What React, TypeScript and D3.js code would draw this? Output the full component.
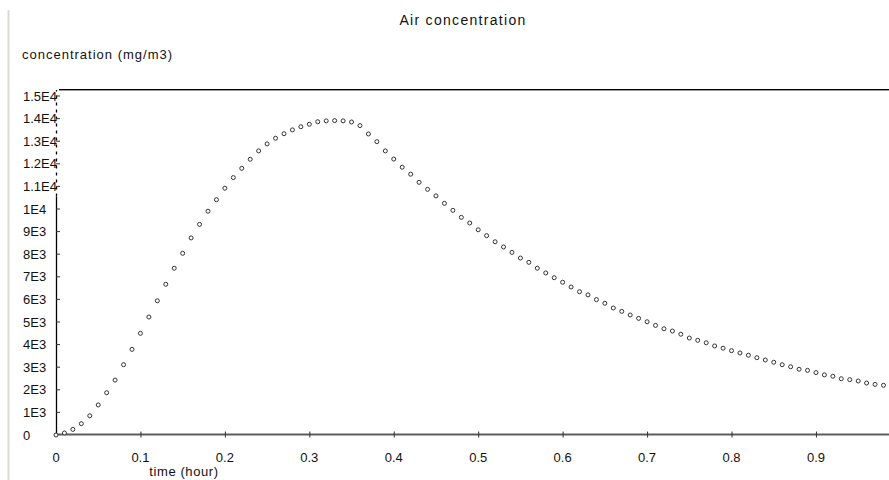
import React from "react";
import * as d3 from "d3";

const title = "Air concentration";
const yTitle = "concentration (mg/m3)";
const xTitle = "time (hour)";

const times: number[] = Array.from({ length: 100 }, (_, i) => i / 100);

const concentration: number[] = [
  0, 90, 250, 500, 850, 1330, 1870, 2430, 3110, 3790,
  4500, 5220, 5940, 6670, 7380, 8040, 8720, 9320, 9900, 10410,
  10920, 11390, 11800, 12200, 12570, 12880, 13130, 13330, 13500, 13640,
  13750, 13860, 13900, 13910, 13900, 13850, 13690, 13320, 12980, 12570,
  12210, 11850, 11540, 11180, 10870, 10580, 10250, 9940, 9630, 9380,
  9080, 8820, 8550, 8320, 8080, 7830, 7640, 7380, 7170, 6960,
  6760, 6550, 6340, 6200, 5990, 5830, 5620, 5470, 5310, 5160,
  5010, 4850, 4700, 4600, 4460, 4290, 4190, 4080, 3940, 3840,
  3730, 3630, 3530, 3420, 3320, 3220, 3110, 3020, 2910, 2860,
  2760, 2660, 2600, 2490, 2450, 2390, 2300, 2240, 2200, 2120,
];

const yTickValues: number[] = d3.range(0, 15001, 1000);
const yTickLabels: string[] = [
  "0", "1E3", "2E3", "3E3", "4E3", "5E3", "6E3", "7E3", "8E3", "9E3",
  "1E4", "1.1E4", "1.2E4", "1.3E4", "1.4E4", "1.5E4",
];
const xTickValues: number[] = [0, 0.1, 0.2, 0.3, 0.4, 0.5, 0.6, 0.7, 0.8, 0.9];
const xTickLabels: string[] = ["0", "0.1", "0.2", "0.3", "0.4", "0.5", "0.6", "0.7", "0.8", "0.9"];

const W = 889;
const H = 480;
const FONT = "'Liberation Sans', Arial, sans-serif";

export default function App() {
  const x = d3.scaleLinear().domain([0, 1]).range([56, 900.4]);
  const y = d3.scaleLinear().domain([0, 15000]).range([435, 96]);
  const axisX = x(0);
  const dashTop = 90;
  const solidTop = y(10550);

  return (
    <svg
      width={W}
      height={H}
      style={{ position: "absolute", left: 0, top: 0, background: "#fff" }}
      fontFamily={FONT}
    >
      <rect x={0} y={0} width={W} height={H} fill="#fff" />
      <line x1={8.5} x2={8.5} y1={10} y2={H} stroke="#dcdad4" strokeWidth={2} />

      <text x={463} y={25} textAnchor="middle" fontSize={14} letterSpacing={1.3} fill="#111">
        {title}
      </text>
      <text x={22} y={59} fontSize={13} letterSpacing={1} fill="#111">
        {yTitle}
      </text>

      {/* top frame line */}
      <line x1={59} x2={W} y1={89.5} y2={89.5} stroke="#000" strokeWidth={1} />
      <line x1={59} x2={W} y1={90.5} y2={90.5} stroke="#9a9a9a" strokeWidth={1} />

      {/* y axis */}
      <line x1={axisX + 0.5} x2={axisX + 0.5} y1={435} y2={solidTop} stroke="#000" strokeWidth={1.3} />
      <line
        x1={axisX + 0.5}
        x2={axisX + 0.5}
        y1={solidTop}
        y2={dashTop}
        stroke="#000"
        strokeWidth={1.3}
        strokeDasharray="3,4"
      />
      {yTickValues.map((v, i) => (
        <g key={"yt" + i}>
          {i > 0 && (
            <line x1={axisX} x2={axisX + 4} y1={y(v)} y2={y(v)} stroke="#333" strokeWidth={1} />
          )}
          <text x={23} y={y(v) + 4.6} fontSize={13} fill="#111">
            {yTickLabels[i]}
          </text>
        </g>
      ))}

      {/* x axis */}
      <line x1={axisX} x2={W} y1={434.5} y2={434.5} stroke="#5c5c5c" strokeWidth={2} />
      {xTickValues.map((v, i) => (
        <g key={"xt" + i}>
          {i > 0 && (
            <line x1={x(v) + 0.5} x2={x(v) + 0.5} y1={431.5} y2={437.5} stroke="#333" strokeWidth={1} />
          )}
          <text x={x(v)} y={461.5} textAnchor="middle" fontSize={13} fill="#111">
            {xTickLabels[i]}
          </text>
        </g>
      ))}
      <text x={184} y={475.5} textAnchor="middle" fontSize={13} letterSpacing={0.6} fill="#111">
        {xTitle}
      </text>

      {/* data points */}
      {times.map((t, i) => (
        <circle
          key={"p" + i}
          cx={x(t)}
          cy={y(concentration[i])}
          r={2}
          fill="#fff"
          stroke="#333"
          strokeWidth={1}
        />
      ))}
    </svg>
  );
}
